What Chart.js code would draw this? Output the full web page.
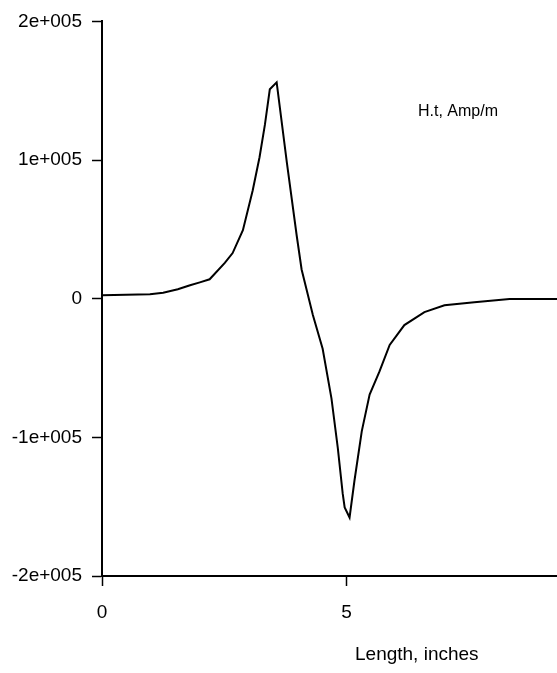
<!DOCTYPE html>
<html>
<head>
<meta charset="utf-8">
<script src="https://cdn.jsdelivr.net/npm/chart.js@4/dist/chart.umd.min.js"></script>
<style>
  html, body { margin: 0; padding: 0; background: #fff; }
  #wrap { width: 557px; height: 673px; }
</style>
</head>
<body>
<div id="wrap"><canvas id="hChart"></canvas></div>
<script>
// length along the part, inches
var lengthIn = [0, 0.98, 1.25, 1.55, 1.8, 2.0, 2.2, 2.51, 2.67, 2.88, 3.08, 3.22, 3.33, 3.43, 3.57,
    3.78, 3.98, 4.08, 4.31, 4.51, 4.69, 4.82, 4.92, 4.96, 5.06, 5.16, 5.31,
    5.47, 5.67, 5.88, 6.18, 6.59, 7.0, 7.61, 8.33, 9.3];
// tangential field H.t, Amp/m
var hField = [2500, 3200, 4300, 6800, 9700, 11800, 14000, 25800, 32900, 49400, 78000, 102000, 125500, 151000, 156000,
    97700, 45400, 21100, -11800, -36100, -71900, -107700, -140600, -150600, -157800, -131300, -95500,
    -69100, -52600, -33300, -19000, -9700, -4700, -2500, -300, -300];
var xTicks = [0, 5];
var yTicks = [-200000, -100000, 0, 100000, 200000];
var seriesLabel = "H.t, Amp/m";
var xTitle = "Length, inches";

function sciLabel(v) {
    if (v === 0) return "0";
    var s = v < 0 ? "-" : "";
    var a = Math.abs(v);
    var e = Math.floor(Math.log10(a));
    var m = Math.round(a / Math.pow(10, e));
    return s + m + "e+" + String(e).padStart(3, "0");
}

var pts = lengthIn.map(function(x, i) { return { x: x, y: hField[i] }; });
var fontFam = "'Liberation Sans', Arial, sans-serif";

var textPlugin = {
    id: "extraText",
    afterDraw: function(chart) {
        var c = chart.ctx;
        c.save();
        c.fillStyle = "#000";
        c.textBaseline = "middle";
        c.textAlign = "left";
        c.font = "16px " + fontFam;
        c.fillText(seriesLabel, 418, 112);
        c.font = "19px " + fontFam;
        c.fillText(xTitle, 355, 655);
        c.restore();
    }
};

var ctx = document.getElementById("hChart").getContext("2d");
new Chart(ctx, {
    type: "line",
    data: {
        datasets: [{
            label: seriesLabel,
            data: pts,
            borderColor: "#000",
            borderWidth: 2,
            pointRadius: 0,
            tension: 0,
            fill: false
        }]
    },
    options: {
        responsive: true,
        maintainAspectRatio: false,
        animation: false,
        layout: { padding: { top: 17, right: 0, left: 0, bottom: 0 } },
        plugins: { legend: { display: false }, tooltip: { enabled: false } },
        scales: {
            x: {
                type: "linear",
                min: 0,
                max: 9.3,
                afterBuildTicks: function(axis) {
                    axis.ticks = xTicks.map(function(v) { return { value: v }; });
                },
                afterFit: function(axis) { axis.height = 97; },
                grid: { drawOnChartArea: false, tickLength: 10, tickColor: "#000", tickWidth: 1.5 },
                border: { color: "#000", width: 2 },
                ticks: { color: "#000", font: { family: fontFam, size: 19 }, padding: 15, maxRotation: 0 }
            },
            y: {
                type: "linear",
                min: -200000,
                max: 200000,
                afterBuildTicks: function(axis) {
                    axis.ticks = yTicks.map(function(v) { return { value: v }; });
                },
                afterFit: function(axis) { axis.width = 102; },
                grid: { drawOnChartArea: false, tickLength: 10, tickColor: "#000", tickWidth: 1.5 },
                border: { color: "#000", width: 2 },
                ticks: {
                    color: "#000",
                    font: { family: fontFam, size: 19 },
                    padding: 10,
                    callback: function(v) { return sciLabel(v); }
                }
            }
        }
    },
    plugins: [textPlugin]
});
</script>
</body>
</html>
